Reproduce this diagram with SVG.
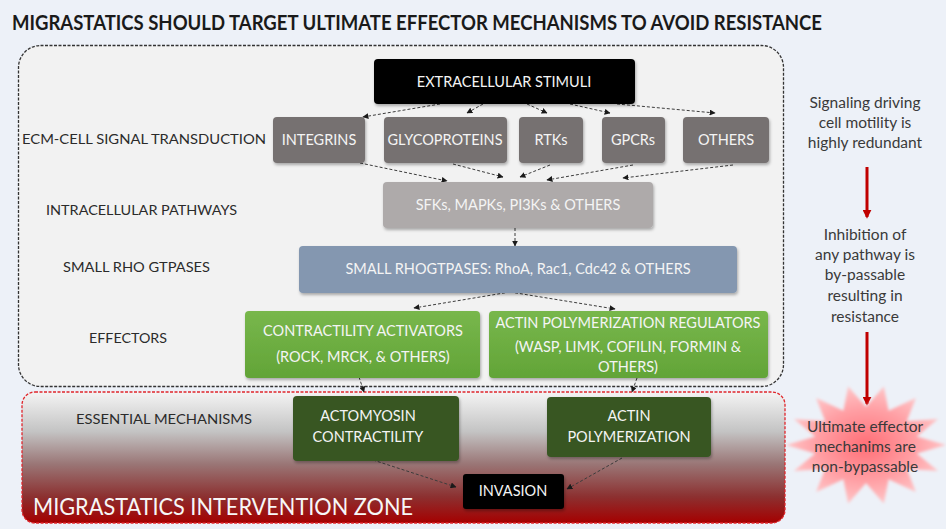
<svg xmlns="http://www.w3.org/2000/svg" width="946" height="529" viewBox="0 0 946 529">
<defs>
<style>
text{font-family:Lato,"Open Sans","Liberation Sans",sans-serif}
.lbl{font-size:14px;fill:#2b2b2b;text-anchor:start}
.bt{font-size:14.5px;fill:#f4f4f4;text-anchor:middle}
.rt{font-size:15.5px;fill:#3a3a3a;text-anchor:middle}
.con{fill:none;stroke:#3c3c3c;stroke-width:1;stroke-dasharray:3 2;marker-end:url(#ah)}
.red{fill:none;stroke:#c00000;stroke-width:3;marker-end:url(#rah)}
</style>
<marker id="ah" viewBox="0 0 10 10" refX="9" refY="5" markerWidth="6" markerHeight="6" orient="auto" markerUnits="userSpaceOnUse"><path d="M0,0L10,5L0,10z" fill="#1a1a1a"/></marker>
<marker id="rah" viewBox="0 0 10 10" refX="8" refY="5" markerWidth="9" markerHeight="9" orient="auto" markerUnits="userSpaceOnUse"><path d="M0,0L10,5L0,10z" fill="#c00000"/></marker>
<linearGradient id="zone" x1="0" y1="0" x2="0" y2="1">
<stop offset="0" stop-color="#f4f4f4"/>
<stop offset="0.3" stop-color="#c4c4c4"/>
<stop offset="0.55" stop-color="#9a7676"/>
<stop offset="0.8" stop-color="#8c3030"/>
<stop offset="1" stop-color="#a50000"/>
</linearGradient>
<linearGradient id="grn" x1="0" y1="0" x2="0" y2="1">
<stop offset="0" stop-color="#78b74c"/>
<stop offset="1" stop-color="#62a437"/>
</linearGradient>
<radialGradient id="star" cx="0.5" cy="0.5" r="0.5">
<stop offset="0" stop-color="#ff6e76"/>
<stop offset="0.6" stop-color="#ff9ea3"/>
<stop offset="1" stop-color="#ffc4c6"/>
</radialGradient>
<filter id="sh" x="-10%" y="-10%" width="120%" height="130%">
<feDropShadow dx="1" dy="2" stdDeviation="1.5" flood-color="#000" flood-opacity="0.3"/>
</filter>
<filter id="blur"><feGaussianBlur stdDeviation="1.5"/></filter>
</defs>

<rect x="0" y="0" width="946" height="529" fill="#edf1f8"/>

<text x="12" y="30" font-size="21" font-weight="bold" fill="#1a1a1a" textLength="810" lengthAdjust="spacingAndGlyphs">MIGRASTATICS SHOULD TARGET ULTIMATE EFFECTOR MECHANISMS TO AVOID RESISTANCE</text>

<g id="signal-zone">
<rect x="18.5" y="45.5" width="765" height="341" rx="22" fill="#f2f2f2" stroke="#333" stroke-width="1.3" stroke-dasharray="3 1.5"/>
</g>
<g id="intervention-zone">
<rect x="22" y="392" width="763" height="131" rx="13" fill="url(#zone)" stroke="#e0262b" stroke-width="1.3" stroke-dasharray="3 1.5"/>
<text x="33" y="515" font-size="24" fill="#f7f7f7" textLength="380" lengthAdjust="spacingAndGlyphs">MIGRASTATICS INTERVENTION ZONE</text>
</g>

<g id="labels">
<text class="lbl" x="22" y="144" textLength="244" lengthAdjust="spacingAndGlyphs">ECM-CELL SIGNAL TRANSDUCTION</text>
<text class="lbl" x="46" y="215" textLength="191" lengthAdjust="spacingAndGlyphs">INTRACELLULAR PATHWAYS</text>
<text class="lbl" x="63" y="272" textLength="147" lengthAdjust="spacingAndGlyphs">SMALL RHO GTPASES</text>
<text class="lbl" x="89" y="343" textLength="78" lengthAdjust="spacingAndGlyphs">EFFECTORS</text>
<text class="lbl" x="76" y="424" textLength="176" lengthAdjust="spacingAndGlyphs">ESSENTIAL MECHANISMS</text>
</g>

<g id="connectors">
<path class="con" d="M440,104L363,117"/>
<path class="con" d="M483,104L467,113"/>
<path class="con" d="M527,104L547,113"/>
<path class="con" d="M570,104L610,113"/>
<path class="con" d="M617,104L715,113"/>
<path class="con" d="M360,163L447,181"/>
<path class="con" d="M453,164L503,177"/>
<path class="con" d="M550,165L520,177"/>
<path class="con" d="M633,165L547,180"/>
<path class="con" d="M733,165L623,178"/>
<path class="con" d="M515,228L515,246"/>
<path class="con" d="M510,292L414,308"/>
<path class="con" d="M510,292L615,309"/>
<path class="con" d="M359,377L364,392"/>
<path class="con" d="M637,378L632,392"/>
<path class="con" d="M373,460L456,487"/>
<path class="con" d="M622,458L567,489"/>
<path class="red" d="M867,167L867,217"/>
<path class="red" d="M867,332L867,404"/>
</g>

<g id="extracellular-stimuli">
<rect x="374" y="59" width="261" height="45" rx="4" fill="#000" filter="url(#sh)"/>
<text class="bt" x="504" y="87">EXTRACELLULAR STIMULI</text>
</g>
<g id="integrins">
<rect x="273" y="117" width="92" height="46" rx="4" fill="#767171" filter="url(#sh)"/>
<text class="bt" x="319" y="145">INTEGRINS</text>
</g>
<g id="glycoproteins">
<rect x="384" y="117" width="123" height="46" rx="4" fill="#767171" filter="url(#sh)"/>
<text class="bt" x="445" y="145">GLYCOPROTEINS</text>
</g>
<g id="rtks">
<rect x="519" y="117" width="64" height="46" rx="4" fill="#767171" filter="url(#sh)"/>
<text class="bt" x="551" y="145">RTKs</text>
</g>
<g id="gpcrs">
<rect x="602" y="117" width="63" height="46" rx="4" fill="#767171" filter="url(#sh)"/>
<text class="bt" x="633" y="145">GPCRs</text>
</g>
<g id="others">
<rect x="683" y="117" width="86" height="46" rx="4" fill="#767171" filter="url(#sh)"/>
<text class="bt" x="726" y="145">OTHERS</text>
</g>
<g id="intracellular">
<rect x="383" y="182" width="270" height="46" rx="4" fill="#aeaaaa" filter="url(#sh)"/>
<text class="bt" x="518" y="210">SFKs, MAPKs, PI3Ks &amp; OTHERS</text>
</g>
<g id="rhogtpases">
<rect x="299" y="246" width="438" height="47" rx="4" fill="#8497b0" filter="url(#sh)"/>
<text class="bt" x="518" y="274">SMALL RHOGTPASES: RhoA, Rac1, Cdc42 &amp; OTHERS</text>
</g>
<g id="contractility-activators">
<rect x="245" y="311" width="235" height="67" rx="4" fill="url(#grn)" filter="url(#sh)"/>
<text class="bt" x="363" y="336">CONTRACTILITY ACTIVATORS</text>
<text class="bt" x="363" y="362">(ROCK, MRCK, &amp; OTHERS)</text>
</g>
<g id="actin-regulators">
<rect x="489" y="311" width="279" height="67" rx="4" fill="url(#grn)" filter="url(#sh)"/>
<text class="bt" x="628" y="328">ACTIN POLYMERIZATION REGULATORS</text>
<text class="bt" x="628" y="352">(WASP, LIMK, COFILIN, FORMIN &amp;</text>
<text class="bt" x="628" y="372">OTHERS)</text>
</g>
<g id="actomyosin">
<rect x="293" y="396" width="166" height="65" rx="4" fill="#375623" filter="url(#sh)"/>
<text class="bt" x="368" y="421">ACTOMYOSIN</text>
<text class="bt" x="368" y="442">CONTRACTILITY</text>
</g>
<g id="actin-polymerization">
<rect x="547" y="397" width="164" height="60" rx="4" fill="#375623" filter="url(#sh)"/>
<text class="bt" x="629" y="421">ACTIN</text>
<text class="bt" x="629" y="442">POLYMERIZATION</text>
</g>
<g id="invasion">
<rect x="463" y="474" width="101" height="35" rx="3" fill="#000" filter="url(#sh)"/>
<text class="bt" x="513" y="496">INVASION</text>
</g>

<g id="redundant">
<text class="rt" x="865" y="108">Signaling driving</text>
<text class="rt" x="865" y="128">cell motility is</text>
<text class="rt" x="865" y="148">highly redundant</text>
</g>
<g id="bypassable">
<text class="rt" x="865" y="240">Inhibition of</text>
<text class="rt" x="865" y="260">any pathway is</text>
<text class="rt" x="865" y="280">by-passable</text>
<text class="rt" x="865" y="301">resulting in</text>
<text class="rt" x="865" y="322">resistance</text>
</g>
<g id="ultimate">
<polygon filter="url(#blur)" fill="url(#star)" points="946,445 916.7,453.5 938.1,471 906.7,468.7 915.9,491.9 888.6,479.2 883.8,503.5 866,483 848.2,503.5 843.4,479.2 816.1,491.9 825.3,468.7 793.9,471 815.3,453.5 786,445 815.3,436.5 793.9,419 825.3,421.3 816.1,398.1 843.4,410.8 848.2,386.5 866,407 883.8,386.5 888.6,410.8 915.9,398.1 906.7,421.3 938.1,419 916.7,436.5"/>
<text class="rt" x="865" y="432">Ultimate effector</text>
<text class="rt" x="865" y="452">mechanims are</text>
<text class="rt" x="865" y="472">non-bypassable</text>
</g>
</svg>
